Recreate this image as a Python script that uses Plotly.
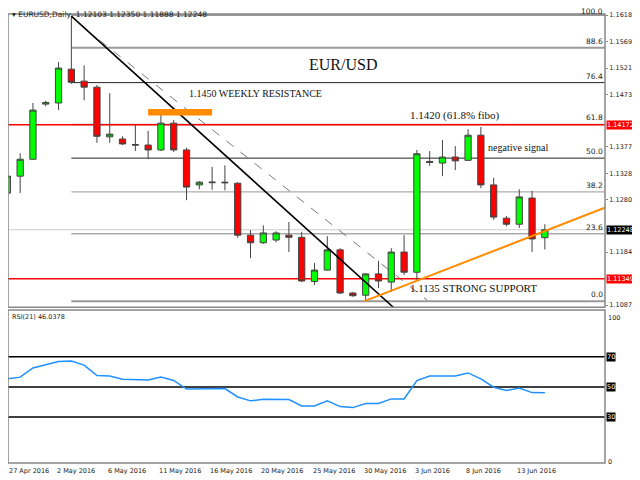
import plotly.graph_objects as go

# daily candles, 27 Apr 2016 .. 14 Jun 2016 (index = bar number)
opens = [1.1292, 1.1323, 1.1354, 1.1455, 1.1457, 1.1519, 1.1497, 1.1486, 1.1395, 1.1391, 1.1381,
         1.1380, 1.1371, 1.1420, 1.1371, 1.1307, 1.1311, 1.1312, 1.1310, 1.1215, 1.1201, 1.1206,
         1.1215, 1.1211, 1.1130, 1.1151, 1.1188, 1.1109, 1.1105, 1.1144, 1.1129, 1.1184, 1.1147,
         1.1350, 1.1347, 1.1358, 1.1352, 1.1398, 1.1307, 1.1246, 1.1235, 1.1283, 1.12103]
highs = [1.1358, 1.1365, 1.1457, 1.1461, 1.1532, 1.1616, 1.1526, 1.1490, 1.1475, 1.1396, 1.1417,
         1.1406, 1.1439, 1.1426, 1.1375, 1.1314, 1.1340, 1.1343, 1.1312, 1.1224, 1.1233, 1.1222,
         1.1239, 1.1221, 1.1164, 1.1213, 1.1191, 1.1111, 1.1145, 1.1168, 1.1191, 1.1215, 1.1371,
         1.1369, 1.1389, 1.1378, 1.1409, 1.1413, 1.1320, 1.1250, 1.1299, 1.1296, 1.12350]
lows = [1.1270, 1.1292, 1.1353, 1.1451, 1.1444, 1.1492, 1.1462, 1.1384, 1.1384, 1.1380, 1.1369,
        1.1354, 1.1369, 1.1367, 1.1279, 1.1299, 1.1298, 1.1297, 1.1210, 1.1173, 1.1199, 1.1202,
        1.1184, 1.1129, 1.1124, 1.1150, 1.1107, 1.1102, 1.1094, 1.1118, 1.1111, 1.1142, 1.1133,
        1.1342, 1.1323, 1.1334, 1.1351, 1.1301, 1.1243, 1.1231, 1.1228, 1.1184, 1.11888]
closes = [1.1323, 1.1354, 1.1444, 1.1458, 1.1521, 1.1495, 1.1486, 1.1396, 1.1400, 1.1382, 1.1380,
          1.1371, 1.1420, 1.1371, 1.1303, 1.1312, 1.1312, 1.1311, 1.1215, 1.1201, 1.1219, 1.1219,
          1.1211, 1.1131, 1.1151, 1.1188, 1.1109, 1.1104, 1.1144, 1.1131, 1.1184, 1.1147, 1.1364,
          1.1348, 1.1358, 1.1351, 1.1398, 1.1307, 1.1248, 1.1235, 1.1285, 1.1208, 1.12248]
rsi = [55.3, 56.5, 62.6, 64.7, 66.9, 67.3, 64.5, 57.6, 57.3, 55.1, 54.9, 54.6, 56.5, 54.3, 48.6,
       48.6, 48.7, 48.9, 43.3, 40.7, 41.8, 41.8, 41.6, 37.3, 37.3, 40.7, 36.9, 36.2, 38.9, 38.9,
       42.0, 41.9, 54.2, 57.3, 57.3, 57.3, 59.3, 55.3, 49.8, 47.6, 49.3, 46.2, 46.04]

tick_bars = [0, 4, 8, 12, 16, 20, 24, 28, 32, 36, 40]
tick_text = ["27 Apr 2016", "2 May 2016", "6 May 2016", "11 May 2016", "16 May 2016", "20 May 2016",
             "25 May 2016", "30 May 2016", "3 Jun 2016", "8 Jun 2016", "13 Jun 2016"]
price_ticks = [1.16180, 1.15690, 1.15210, 1.14730, 1.13770, 1.13280, 1.12800, 1.11840, 1.10870]

fib_low, fib_high, fib_start = 1.1094, 1.1618, 5
fib_levels = [0.0, 23.6, 38.2, 50.0, 61.8, 76.4, 88.6, 100.0]
fib_colors = ["#999", "#aaa", "#999", "#222", "#999", "#222", "#999", "#999"]
fib_widths = [2, 1.5, 1, 1, 1.5, 1, 2, 2]

red_levels = [1.14172, 1.11349]
last_price = 1.12248
trend_down = ([5, 30.2], [1.1616, 1.1082])
trend_dash = ([7.2, 32.8], [1.1572, 1.1096])
trend_up = ([27.9, 47.0], [1.1094, 1.1268])
resist_box = ([11, 16], [1.1434, 1.1446])
rsi_levels = [70, 50, 30]

xs = list(range(len(opens)))
xr = [0.05, 46.7]
serif = "Liberation Serif"
sans = "DejaVu Sans"
axf = dict(family=sans, size=6.5, color="#222")
main_dom = [0.347, 1.0]
rsi_dom = [0.0, 0.341]

fig = go.Figure()
fig.add_trace(go.Candlestick(
    x=xs, open=opens, high=highs, low=lows, close=closes,
    increasing=dict(fillcolor="#00ff00", line=dict(color="#444", width=1)),
    decreasing=dict(fillcolor="#ff0000", line=dict(color="#444", width=1)),
    whiskerwidth=0, showlegend=False, hoverinfo="skip", yaxis="y"))
fig.add_trace(go.Scatter(x=xs, y=rsi, mode="lines", line=dict(color="#1e90ff", width=1.5),
                         showlegend=False, yaxis="y2"))

# trend lines
fig.add_trace(go.Scatter(x=trend_down[0], y=trend_down[1], mode="lines",
                         line=dict(color="black", width=1.6), showlegend=False))
fig.add_trace(go.Scatter(x=trend_dash[0], y=trend_dash[1], mode="lines",
                         line=dict(color="#555", width=0.8, dash="dash"), showlegend=False))
fig.add_trace(go.Scatter(x=trend_up[0], y=trend_up[1], mode="lines",
                         line=dict(color="#ff8c00", width=2), showlegend=False))

shapes, annos = [], []
for lvl, col, w in zip(fib_levels, fib_colors, fib_widths):
    p = fib_low + lvl / 100 * (fib_high - fib_low)
    shapes.append(dict(type="line", xref="x", yref="y", x0=fib_start, x1=xr[1], y0=p, y1=p,
                       line=dict(color=col, width=w), layer="below"))
    annos.append(dict(xref="paper", yref="y", x=1, y=p, text=f"{lvl:.1f}", showarrow=False,
                      xanchor="right", yanchor="bottom", yshift=-3 if lvl == 100 else 0,
                      font=dict(family=sans, size=7.5, color="#222")))
for p in red_levels:
    shapes.append(dict(type="line", xref="x", yref="y", x0=xr[0], x1=xr[1], y0=p, y1=p,
                       line=dict(color="red", width=1.5), layer="below"))
    annos.append(dict(xref="paper", yref="y", x=1.002, y=p, text=f"{p:.5f}", showarrow=False,
                      xanchor="left", bgcolor="red", borderpad=0,
                      font=dict(family=sans, size=6.5, color="white")))
shapes.append(dict(type="line", xref="x", yref="y", x0=xr[0], x1=xr[1], y0=last_price, y1=last_price,
                   line=dict(color="#ccc", width=1), layer="below"))
annos.append(dict(xref="paper", yref="y", x=1.002, y=last_price, text=f"{last_price:.5f}",
                  showarrow=False, xanchor="left", bgcolor="black", borderpad=0,
                  font=dict(family=sans, size=6.5, color="white")))
shapes.append(dict(type="rect", xref="x", yref="y", x0=resist_box[0][0], x1=resist_box[0][1],
                   y0=resist_box[1][0], y1=resist_box[1][1], fillcolor="#ff8c00", line=dict(width=0)))
for lvl in rsi_levels:
    shapes.append(dict(type="line", xref="x", yref="y2", x0=xr[0], x1=xr[1], y0=lvl, y1=lvl,
                       line=dict(color="black", width=1.5), layer="below"))
    annos.append(dict(xref="paper", yref="y2", x=1.002, y=lvl, text=str(lvl), showarrow=False,
                      xanchor="left", bgcolor="black", borderpad=0,
                      font=dict(family=sans, size=6.5, color="white")))
for lvl in [100, 0]:
    annos.append(dict(xref="paper", yref="y2", x=1.002, y=lvl, text=str(lvl), showarrow=False,
                      xanchor="left", yanchor="top" if lvl else "middle", font=axf))
# panel frames
for y0, y1 in [main_dom, rsi_dom]:
    shapes.append(dict(type="rect", xref="paper", yref="paper", x0=0, x1=1, y0=y0, y1=y1,
                       line=dict(color="#888", width=1.5)))
for b, t in zip(tick_bars, tick_text):
    annos.append(dict(xref="x", yref="paper", x=max(b, xr[0]), y=-0.004, text=t, showarrow=False,
                      xanchor="left", yanchor="top", xshift=-4 if b else -1, font=axf))

texts = [("EUR/USD", 26.2, 1.1528, 16, "center"),
         ("1.1450 WEEKLY RESISTANCE", 14.0, 1.1475, 10, "left"),
         ("1.1420 (61.8% fibo)", 31.3, 1.1435, 11, "left"),
         ("negative signal", 37.4, 1.1375, 10, "left"),
         ("1.1135 STRONG SUPPORT", 31.3, 1.1119, 11, "left")]
for t, x, y, s, anc in texts:
    annos.append(dict(xref="x", yref="y", x=x, y=y, text=t, showarrow=False, xanchor=anc,
                      font=dict(family=serif, size=s, color="#111")))
annos.append(dict(xref="paper", yref="paper", x=0.003, y=1.0, xanchor="left", yanchor="middle",
                  showarrow=False, text="▾ EURUSD,Daily  1.12103 1.12350 1.11888 1.12248",
                  font=dict(family=sans, size=7.5, color="#222")))
annos.append(dict(xref="paper", yref="paper", x=0.003, y=rsi_dom[1] - 0.002, xanchor="left",
                  yanchor="top", showarrow=False, text="RSI(21) 46.0378", font=axf))

fig.update_layout(
    width=632, height=472, margin=dict(l=0, r=35, t=6, b=17),
    paper_bgcolor="white", plot_bgcolor="white", shapes=shapes, annotations=annos,
    xaxis=dict(range=xr, showgrid=False, showticklabels=False, zeroline=False,
               rangeslider=dict(visible=False), anchor="y2"),
    yaxis=dict(domain=main_dom, range=[1.1083, 1.1620], side="right", tickvals=price_ticks,
               tickformat=".5f", showgrid=False, zeroline=False, ticks="outside", ticklen=2,
               tickcolor="#888", tickfont=axf),
    yaxis2=dict(domain=rsi_dom, range=[-0.7, 101.3], side="right", showgrid=False,
                showticklabels=False, zeroline=False),
)
fig.write_html("out.html")
